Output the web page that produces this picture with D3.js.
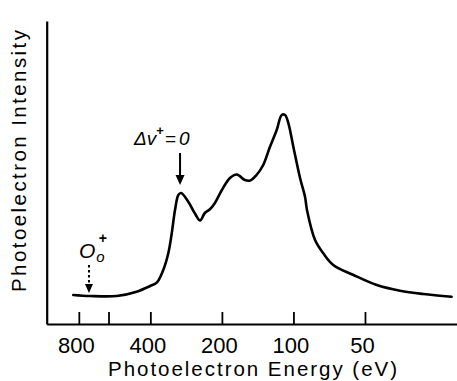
<!DOCTYPE html>
<html>
<head>
<meta charset="utf-8">
<script src="https://cdn.jsdelivr.net/npm/d3@7"></script>
<style>
  html, body { margin: 0; padding: 0; background: #fff; }
  svg { display: block; }
</style>
</head>
<body>
<svg id="chart" width="457" height="381"></svg>
<script>
// Photoelectron energy (eV) of each traced point
const energy = [844, 718, 554, 457, 401, 376, 353, 336, 325, 315, 305, 297, 277, 260, 247,
  236, 224, 214, 200, 185, 173, 160, 152, 143, 134, 125.5, 117.6, 112, 108.5, 105, 100.1,
  93.8, 89.4, 87.7, 81.1, 74.9, 68, 55.9, 44.6, 35.6, 28.4, 21.6];
// Photoelectron intensity (arbitrary units)
const intensity = [9.67, 9.33, 9.33, 10.77, 12.67, 13.77, 18, 23.67, 30.33, 38, 43, 43.67, 40.77, 36.9, 34.5,
  37, 38.33, 40.33, 44.67, 48.67, 49.83, 48, 47.83, 49.67, 53, 59.1, 64.67, 69.67, 69.67, 66.9, 59.1,
  48.67, 42.43, 38, 28, 23.57, 19.67, 16.33, 13, 11.1, 10, 9.1];
// Axis ticks
const tickValues = [800, 600, 400, 200, 100, 50];
const tickLabels = ["800", "", "400", "200", "100", "50"];
// Annotations
const annPeakEnergy = 300;      // Δv+=0 arrow
const annOriginEnergy = 725;    // O_o+ dotted arrow

const svg = d3.select("#chart");
const x = d3.scaleLog().domain([1092, 20.5]).range([46.7, 457]);
const y = d3.scaleLinear().domain([0, 101]).range([324, 21]);

const FONT = "'Liberation Sans', Arial, sans-serif";

// x axis
const xAxis = d3.axisBottom(x)
  .tickValues(tickValues)
  .tickFormat((d, i) => tickLabels[i])
  .tickSizeInner(-12)
  .tickSizeOuter(0)
  .tickPadding(13);
const gx = svg.append("g").attr("transform", `translate(0,${y(0)})`).call(xAxis);
gx.select(".domain").attr("stroke", "#000").attr("stroke-width", 2.2);
gx.selectAll(".tick line").attr("stroke", "#000").attr("stroke-width", 1.8);
gx.selectAll(".tick text").attr("font-family", FONT).attr("font-size", 22)
  .attr("fill", "#000").attr("dx", -3);

// y axis (line only)
const yAxis = d3.axisLeft(y).tickValues([]).tickSizeOuter(0);
const gy = svg.append("g").attr("transform", `translate(${x.range()[0]},0)`).call(yAxis);
gy.select(".domain").attr("stroke", "#000").attr("stroke-width", 2.2);

// axis labels
svg.append("text")
  .attr("x", 108).attr("y", 376)
  .attr("font-family", FONT).attr("font-size", 20.5)
  .attr("textLength", 289).attr("lengthAdjust", "spacing")
  .text("Photoelectron Energy (eV)");

svg.append("text")
  .attr("transform", "translate(26,161) rotate(-90)")
  .attr("text-anchor", "middle")
  .attr("font-family", FONT).attr("font-size", 20.5)
  .attr("textLength", 262).attr("lengthAdjust", "spacing")
  .text("Photoelectron Intensity");

// curve
const pts = energy.map((e, i) => [e, intensity[i]]);
const line = d3.line().x(d => x(d[0])).y(d => y(d[1])).curve(d3.curveCatmullRom.alpha(0.5));
svg.append("path").datum(pts).attr("d", line)
  .attr("fill", "none").attr("stroke", "#000").attr("stroke-width", 2.6)
  .attr("stroke-linejoin", "round").attr("stroke-linecap", "round");

// Annotation: Δv+=0 (single text element with tspans)
const ax = x(annPeakEnergy);
const t1 = svg.append("text").attr("x", 134).attr("y", 145)
  .attr("font-family", FONT).attr("font-style", "italic").attr("font-size", 19).attr("fill", "#000");
t1.append("tspan").text("Δv");
t1.append("tspan").attr("dx", 0).attr("dy", -10).attr("font-size", 13)
  .attr("font-style", "normal").attr("font-weight", "bold").text("+");
t1.append("tspan").attr("dx", 1).attr("dy", 10).text("=");
t1.append("tspan").attr("dx", 3).text("0");
svg.append("line").attr("x1", ax).attr("x2", ax).attr("y1", 153).attr("y2", 177)
  .attr("stroke", "#000").attr("stroke-width", 2);
svg.append("path")
  .attr("d", `M${ax - 4.5},${175} L${ax + 4.5},${175} L${ax},${185} Z`)
  .attr("fill", "#000");

// Annotation: O_o+ (single text element with tspans)
const ox = x(annOriginEnergy);
const t2 = svg.append("text").attr("x", 79).attr("y", 258)
  .attr("font-family", FONT).attr("font-style", "italic").attr("font-size", 21).attr("fill", "#000");
t2.append("tspan").text("O");
t2.append("tspan").attr("dx", 1).attr("dy", 4).attr("font-size", 15).text("o");
t2.append("tspan").attr("dx", -6).attr("dy", -19).attr("font-size", 14)
  .attr("font-style", "normal").attr("font-weight", "bold").text("+");
svg.append("line").attr("x1", ox).attr("x2", ox).attr("y1", 265).attr("y2", 284)
  .attr("stroke", "#000").attr("stroke-width", 2).attr("stroke-dasharray", "2.5,2.5");
svg.append("path")
  .attr("d", `M${ox - 4},${284} L${ox + 4},${284} L${ox},${293} Z`)
  .attr("fill", "#000");
</script>
</body>
</html>
